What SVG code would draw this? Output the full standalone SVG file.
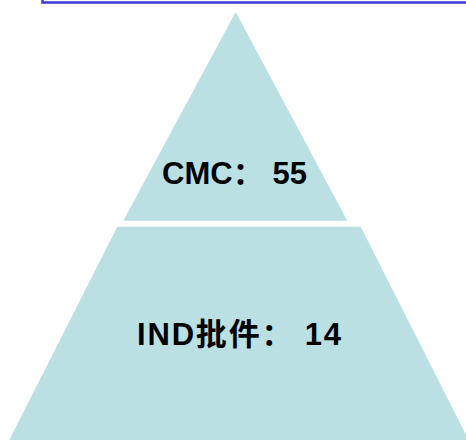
<svg xmlns="http://www.w3.org/2000/svg" width="466" height="440" viewBox="0 0 466 440">
<style>
.tier{fill:#bbe0e3;}
.lbl{font-family:"Liberation Sans","Noto Sans CJK SC",sans-serif;font-weight:bold;font-size:31px;fill:#000;}
</style>
<rect x="0" y="0" width="466" height="440" fill="#ffffff"/>
<path d="M42.5,-2 V2.5 H470" fill="none" stroke="#3c3cd2" stroke-width="2.5"/>
<g id="top">
<polygon class="tier" points="235.7,12 347.3,220.7 123.3,220.7"/>
<text class="lbl" x="162" y="184" textLength="145" lengthAdjust="spacing">CMC： 55</text>
</g>
<g id="bottom">
<polygon class="tier" points="117.3,226.7 360.7,226.7 468.7,440 9.3,440"/>
<text class="lbl" x="137" y="345" textLength="204" lengthAdjust="spacing">IND批件： 14</text>
</g>
<g id="connectors"></g>
</svg>
